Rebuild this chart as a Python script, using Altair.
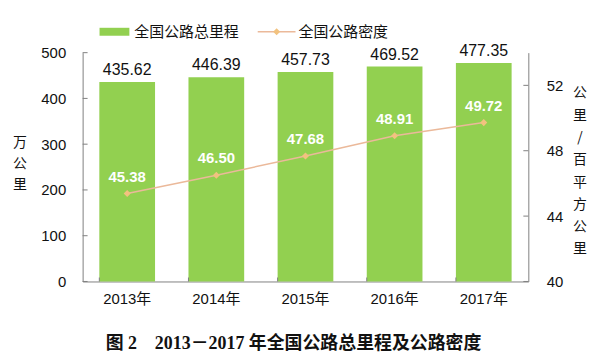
import altair as alt
import pandas as pd

years = ["2013年", "2014年", "2015年", "2016年", "2017年"]
total_km = [435.62, 446.39, 457.73, 469.52, 477.35]
density = [45.38, 46.50, 47.68, 48.91, 49.72]
left_ticks = [0, 100, 200, 300, 400, 500]
right_ticks = [40, 44, 48, 52]

df = pd.DataFrame({"year": years, "km": total_km, "density": density})
lt_df = pd.DataFrame({"km": left_ticks})
rt_df = pd.DataFrame({"density": right_ticks})
one = pd.DataFrame({"a": [0]})

GREEN = "#92D050"
LINE = "#EBB99A"
MARK = "#F2C27F"
AXC = "#808080"
FONT = "Liberation Sans, Arial, Noto Sans CJK SC"
CJK = "Noto Sans CJK SC"

x = alt.X("year:N", sort=years,
          scale=alt.Scale(paddingInner=0.375, paddingOuter=0.1875),
          axis=alt.Axis(title=None, labelAngle=0, labelFontSize=15, labelColor="#111",
                        labelFont=FONT, tickSize=0, domainColor=AXC, labelPadding=10))

yl = alt.Y("km:Q", scale=alt.Scale(domain=[0, 500]),
           axis=alt.Axis(values=left_ticks, title=None, tickSize=0, labelPadding=17,
                         grid=False, domainColor=AXC, labelFontSize=15, labelFont=FONT,
                         labelColor="#111", orient="left"))

yr = alt.Y("density:Q", scale=alt.Scale(domain=[40, 54]),
           axis=alt.Axis(values=right_ticks, title=None, tickSize=0, labelPadding=18,
                         grid=False, domainColor=AXC, labelFontSize=15, labelFont=FONT,
                         labelColor="#111", orient="right"))

base = alt.Chart(df)
bars = base.mark_bar(color=GREEN).encode(x=x, y=yl)
bar_labels = base.mark_text(baseline="bottom", dy=-4, fontSize=16, font=FONT,
                            color="#111").encode(x=x, y=yl, text=alt.Text("km:Q", format=".2f"))
lt_rules = alt.Chart(lt_df).mark_rule(color=AXC).encode(y=yl, x=alt.value(0), x2=alt.value(5))
x_ticks = base.mark_rule(color=AXC).encode(
    x=alt.X("year:N", sort=years, bandPosition=0), y=alt.value(230), y2=alt.value(226))

left = alt.layer(bars, bar_labels, lt_rules, x_ticks)

line = base.mark_line(color=LINE, strokeWidth=1.5).encode(x=x, y=yr)
points = base.mark_point(shape="diamond", filled=True, color=MARK, size=50,
                         opacity=1).encode(x=x, y=yr)
line_labels = base.mark_text(baseline="bottom", dy=-9, fontSize=15, font=FONT,
                             fontWeight="bold", color="white").encode(
    x=x, y=yr, text=alt.Text("density:Q", format=".2f"))
rt_rules = alt.Chart(rt_df).mark_rule(color=AXC).encode(y=yr, x=alt.value(448), x2=alt.value(443))

right = alt.layer(line, points, line_labels, rt_rules)

ann = alt.Chart(one)
leg_rect = ann.mark_rect(color=GREEN).encode(x=alt.value(17), x2=alt.value(47),
                                             y=alt.value(-25), y2=alt.value(-17))
leg_t1 = ann.mark_text(align="left", baseline="middle", fontSize=15, font=CJK,
                       color="#111").encode(x=alt.value(52), y=alt.value(-21),
                                            text=alt.value("全国公路总里程"))
leg_line = ann.mark_rule(color=LINE, strokeWidth=1.5).encode(
    x=alt.value(176), x2=alt.value(214), y=alt.value(-21))
leg_pt = ann.mark_point(shape="diamond", filled=True, color=MARK, size=50, opacity=1).encode(
    x=alt.value(195), y=alt.value(-21))
leg_t2 = ann.mark_text(align="left", baseline="middle", fontSize=15, font=CJK,
                       color="#111").encode(x=alt.value(217), y=alt.value(-21),
                                            text=alt.value("全国公路密度"))
ltitle = ann.mark_text(align="center", baseline="middle", fontSize=14, font=CJK,
                       color="#111", lineHeight=21).encode(
    x=alt.value(-63), y=alt.value(91), text=alt.value(["万", "公", "里"]))
rtitle = ann.mark_text(align="center", baseline="middle", fontSize=14, font=CJK,
                       color="#111", lineHeight=22.4).encode(
    x=alt.value(500), y=alt.value(41),
    text=alt.value(["公", "里", "/", "百", "平", "方", "公", "里"]))
caption = ann.mark_text(align="center", baseline="middle", fontSize=18,
                        font="Liberation Serif, Noto Sans CJK SC", fontWeight="bold",
                        color="#111").encode(
    x=alt.value(212), y=alt.value(293),
    text=alt.value("图 2　2013－2017 年全国公路总里程及公路密度"))

annotations = alt.layer(leg_rect, leg_t1, leg_line, leg_pt, leg_t2, ltitle, rtitle, caption)

chart = alt.layer(left, right, annotations).resolve_scale(y="independent").properties(
    width=448, height=230,
    autosize=alt.AutoSizeParams(type="none"),
    padding={"left": 75, "top": 44, "right": 64, "bottom": 71},
    background="white",
).configure_view(stroke=None)

chart.save("out.html", embed_options={"renderer": "svg", "actions": False})
